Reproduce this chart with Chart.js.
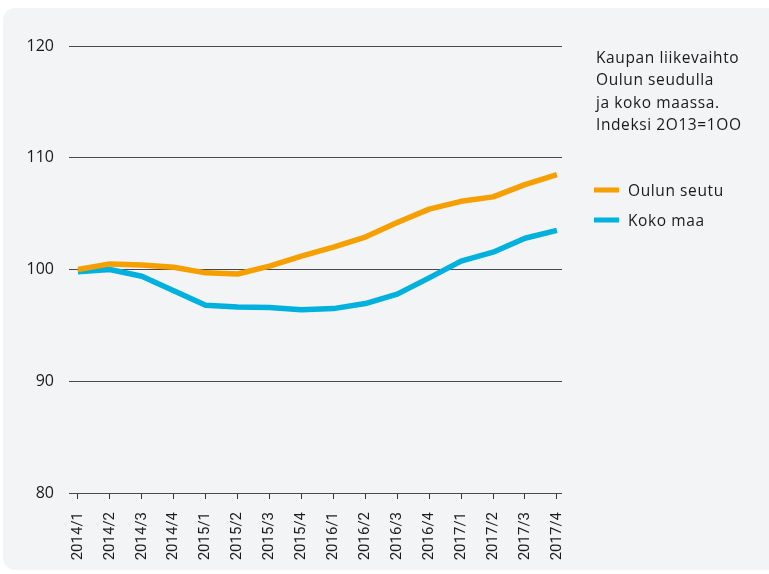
<!DOCTYPE html>
<html>
<head>
<meta charset="utf-8">
<script src="https://cdn.jsdelivr.net/npm/chart.js@4/dist/chart.umd.min.js"></script>
<style>
  html, body { margin: 0; padding: 0; background: #fff; }
  #card {
    position: absolute; left: 3px; top: 8px; width: 780px; height: 562px;
    background: #f3f4f6; border-radius: 12px;
  }
  #wrap { position: absolute; left: 0; top: 0; width: 769px; height: 574px; }
</style>
</head>
<body>
<div id="card"></div>
<div id="wrap"><canvas id="c"></canvas></div>
<script>
const quarters = ['2014/1','2014/2','2014/3','2014/4','2015/1','2015/2','2015/3','2015/4',
                  '2016/1','2016/2','2016/3','2016/4','2017/1','2017/2','2017/3','2017/4']
const oulunSeutu = [100.0, 100.5, 100.4, 100.2, 99.7, 99.6, 100.3, 101.2,
                    102.0, 102.9, 104.2, 105.4, 106.1, 106.5, 107.6, 108.5]
const kokoMaa    = [99.8, 100.0, 99.4, 98.1, 96.8, 96.65, 96.6, 96.4,
                    96.5, 96.95, 97.8, 99.25, 100.75, 101.55, 102.8, 103.5]
const titleLines = ['Kaupan liikevaihto', 'Oulun seudulla', 'ja koko maassa.', 'Indeksi 2O13=1OO']

const toPoints = arr => arr.map((v, i) => ({ x: i, y: v }))

// side legend with the title block, drawn from the datasets
const sideLegend = {
  id: 'sideLegend',
  afterDraw(chart) {
    const ctx = chart.ctx
    ctx.save()
    ctx.fillStyle = '#1a1a1a'
    ctx.font = '15.5px "Open Sans"'
    ctx.letterSpacing = '0.6px'
    ctx.textBaseline = 'alphabetic'
    titleLines.forEach((t, i) => ctx.fillText(t, 596, 63 + i * 22.4))

    chart.data.datasets.forEach((ds, i) => {
      const y = 190 + i * 30
      ctx.strokeStyle = ds.borderColor
      ctx.lineWidth = 5
      ctx.beginPath()
      ctx.moveTo(594, y)
      ctx.lineTo(619, y)
      ctx.stroke()
      ctx.fillText(ds.label, 628, y + 6)
    })
    ctx.restore()
  }
}

new Chart(document.getElementById('c'), {
  type: 'line',
  data: {
    datasets: [
      {
        label:       'Oulun seutu',
        data:        toPoints(oulunSeutu),
        borderColor: '#f59f00',
        borderWidth: 5.5,
        pointRadius: 0,
        tension:     0,
        borderJoinStyle: 'round',
      },
      {
        label:       'Koko maa',
        data:        toPoints(kokoMaa),
        borderColor: '#00b1dd',
        borderWidth: 5.5,
        pointRadius: 0,
        tension:     0,
        borderJoinStyle: 'round',
      },
    ],
  },
  options: {
    responsive:          true,
    maintainAspectRatio: false,
    animation:           false,
    layout: { padding: { top: 46, right: 207, left: 0, bottom: 0 } },
    plugins: {
      legend:  { display: false },
      tooltip: { enabled: false },
    },
    scales: {
      x: {
        type: 'linear',
        min: -0.28,
        max: 15.16,
        afterBuildTicks: s => { s.ticks = quarters.map((_, i) => ({ value: i })) },
        afterFit: s => { s.height = 81 },
        grid:   { drawOnChartArea: false, drawTicks: true, tickLength: 6, color: '#333' },
        border: { display: false },
        ticks: {
          autoSkip: false,
          minRotation: 90,
          maxRotation: 90,
          padding: 13,
          color: '#1a1a1a',
          font: { family: 'Roboto', size: 15 },
          callback: v => quarters[v],
        },
      },
      y: {
        min: 80,
        max: 120,
        afterFit: s => { s.width = 69 },
        grid:   { drawTicks: false, color: '#4a4a4a' },
        border: { display: false },
        ticks: {
          stepSize: 10,
          padding: 15,
          color: '#1a1a1a',
          font: { family: 'Open Sans', size: 16 },
        },
      },
    },
  },
  plugins: [sideLegend],
})
</script>
</body>
</html>
